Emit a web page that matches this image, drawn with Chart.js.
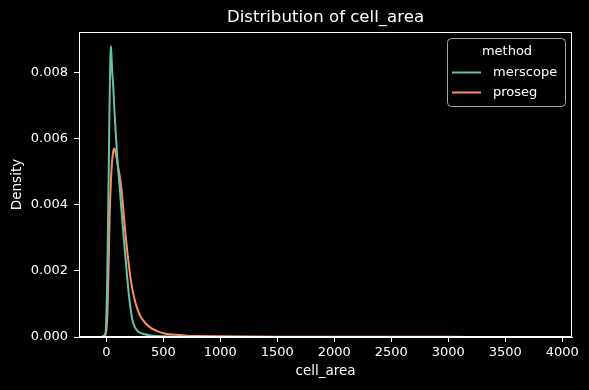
<!DOCTYPE html>
<html>
<head>
<meta charset="utf-8">
<script src="https://cdn.jsdelivr.net/npm/chart.js@4/dist/chart.umd.min.js"></script>
<style>
  html, body { margin: 0; padding: 0; background: #000; }
  #wrap { width: 589px; height: 390px; }
</style>
</head>
<body>
<div id="wrap"><canvas id="c" width="589" height="390"></canvas></div>
<script>
// ---- data ----
const chartTitle = "Distribution of cell_area";
const legendTitle = "method";
const seriesNames = ["merscope", "proseg"];

const merscopeX = [-15, -10, -5, 0, 5, 10, 15, 20, 25, 30, 35, 40, 45, 50, 60, 70, 85, 100, 110, 120, 140, 160, 180, 200, 215, 230, 250, 280, 320, 400, 500, 600, 740];
const merscopeY = [0, 0.00003, 0.0002, 0.0006, 0.0013, 0.0023, 0.0035, 0.0048, 0.0062, 0.0075, 0.0084, 0.0088, 0.0085, 0.0081, 0.0076, 0.0069, 0.0060, 0.0052, 0.0048, 0.0044, 0.0035, 0.0027, 0.0019, 0.0012, 0.0008, 0.0005, 0.0003, 0.00016, 0.0001, 0.00004, 0.00002, 0.00001, 0.000005];

const prosegX = [-45, -30, -15, 0, 10, 20, 30, 40, 50, 60, 70, 80, 100, 120, 140, 160, 180, 200, 220, 250, 275, 300, 340, 380, 450, 520, 600, 700, 800, 1000, 1500, 2000, 2500, 3000, 3500, 3900];
const prosegY = [0, 0.00002, 0.00006, 0.0002, 0.0008, 0.0022, 0.0038, 0.0047, 0.0053, 0.0056, 0.0057, 0.0056, 0.0052, 0.0048, 0.0042, 0.0034, 0.0027, 0.0021, 0.0016, 0.0011, 0.00082, 0.00062, 0.00043, 0.0003, 0.00017, 0.0001, 0.00007, 0.00004, 0.00003, 0.00002, 0.00001, 0.000008, 0.000005, 0.000004, 0.000003, 0.000002];

const xTickValues = [0, 500, 1000, 1500, 2000, 2500, 3000, 3500, 4000];
const yTickValues = [0, 0.002, 0.004, 0.006, 0.008];
const colors = ["#66c2a5", "#fc8d62"];

const FONT = "'DejaVu Sans', sans-serif";

function pts(xs, ys) { return xs.map((x, i) => ({ x: x, y: ys[i] })); }

const bgPlugin = {
  id: 'bg',
  beforeDraw(chart) {
    const ctx = chart.ctx;
    ctx.save();
    ctx.fillStyle = '#000';
    ctx.fillRect(0, 0, chart.width, chart.height);
    ctx.restore();
  }
};

const framePlugin = {
  id: 'frame',
  afterDraw(chart) {
    const ctx = chart.ctx;
    const a = chart.chartArea;
    ctx.save();
    // spines
    ctx.strokeStyle = '#ffffff';
    ctx.lineWidth = 1;
    ctx.strokeRect(Math.round(a.left) + 0.5, Math.round(a.top) + 0.5, Math.round(a.right - a.left) - 1, Math.round(a.bottom - a.top) - 1);
    // title
    ctx.fillStyle = '#ffffff';
    ctx.font = "16.6px " + FONT;
    ctx.textAlign = 'center';
    ctx.textBaseline = 'middle';
    ctx.fillText(chartTitle, (a.left + a.right) / 2, 17.5);
    // legend
    const lx = 447.5, ly = 38.5, lw = 118, lh = 68, r = 4;
    ctx.beginPath();
    ctx.moveTo(lx + r, ly);
    ctx.lineTo(lx + lw - r, ly);
    ctx.arcTo(lx + lw, ly, lx + lw, ly + r, r);
    ctx.lineTo(lx + lw, ly + lh - r);
    ctx.arcTo(lx + lw, ly + lh, lx + lw - r, ly + lh, r);
    ctx.lineTo(lx + r, ly + lh);
    ctx.arcTo(lx, ly + lh, lx, ly + lh - r, r);
    ctx.lineTo(lx, ly + r);
    ctx.arcTo(lx, ly, lx + r, ly, r);
    ctx.closePath();
    ctx.fillStyle = 'rgba(0,0,0,0.8)';
    ctx.fill();
    ctx.strokeStyle = 'rgba(204,204,204,0.8)';
    ctx.stroke();
    ctx.fillStyle = '#ffffff';
    ctx.font = "13px " + FONT;
    ctx.textAlign = 'center';
    ctx.fillText(legendTitle, 507, 52);
    const rows = [72.5, 92.5];
    chart.data.datasets.forEach((ds, i) => {
      ctx.strokeStyle = ds.borderColor;
      ctx.lineWidth = 2;
      ctx.beginPath();
      ctx.moveTo(452, rows[i]);
      ctx.lineTo(481, rows[i]);
      ctx.stroke();
      ctx.fillStyle = '#ffffff';
      ctx.textAlign = 'left';
      ctx.fillText(ds.label, 493, rows[i]);
    });
    ctx.restore();
  }
};

new Chart(document.getElementById('c'), {
  type: 'line',
  data: {
    datasets: [
      { label: seriesNames[0], data: pts(merscopeX, merscopeY), borderColor: colors[0], backgroundColor: colors[0] },
      { label: seriesNames[1], data: pts(prosegX, prosegY), borderColor: colors[1], backgroundColor: colors[1] }
    ]
  },
  options: {
    responsive: false,
    animation: false,
    devicePixelRatio: 1,
    layout: { padding: { top: 32, right: 17, left: 0, bottom: 0 } },
    elements: {
      point: { radius: 0 },
      line: { borderWidth: 2, cubicInterpolationMode: 'monotone' }
    },
    plugins: {
      legend: { display: false },
      title: { display: false },
      tooltip: { enabled: false }
    },
    scales: {
      x: {
        type: 'linear',
        min: -240,
        max: 4085,
        afterFit(s) { s.height = 53; },
        afterBuildTicks(s) { s.ticks = xTickValues.map(v => ({ value: v })); },
        ticks: { color: '#ffffff', font: { family: FONT, size: 13 }, padding: 3, maxRotation: 0, callback: v => String(v) },
        grid: { display: true, drawOnChartArea: false, drawTicks: true, tickLength: 5, color: '#ffffff' },
        border: { display: true, color: '#ffffff' },
        title: { display: true, text: 'cell_area', color: '#ffffff', font: { family: FONT, size: 13.5 }, padding: { top: 2, bottom: 10 } }
      },
      y: {
        type: 'linear',
        min: 0,
        max: 0.00922,
        afterFit(s) { s.width = 79; },
        afterBuildTicks(s) { s.ticks = yTickValues.map(v => ({ value: v })); },
        ticks: { color: '#ffffff', font: { family: FONT, size: 13 }, padding: 6, callback: v => Number(v).toFixed(3) },
        grid: { display: true, drawOnChartArea: false, drawTicks: true, tickLength: 5, color: '#ffffff' },
        border: { display: true, color: '#ffffff' },
        title: { display: true, text: 'Density', color: '#ffffff', font: { family: FONT, size: 13.5 }, padding: { top: 9, bottom: 4 } }
      }
    }
  },
  plugins: [bgPlugin, framePlugin]
});
</script>
</body>
</html>
